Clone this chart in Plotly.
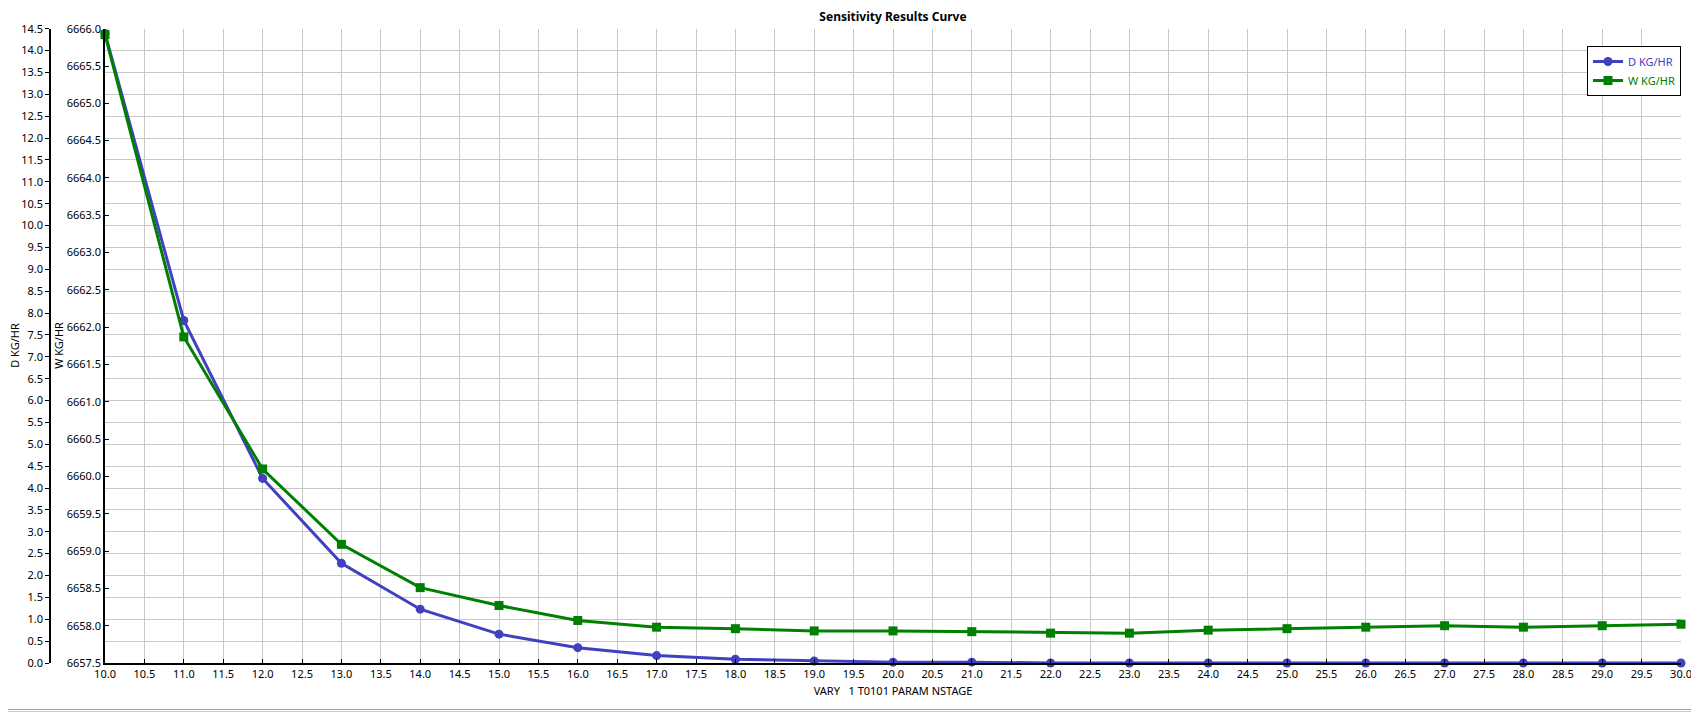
import plotly.graph_objects as go

PAGE_W, PAGE_H = 1699, 713
OFF = 8  # default body margin of the html page
W_PX, H_PX = PAGE_W - OFF, PAGE_H - OFF

stages = [10, 11, 12, 13, 14, 15, 16, 17, 18, 19, 20,
          21, 22, 23, 24, 25, 26, 27, 28, 29, 30]
d_kg_hr = [14.39, 7.83, 4.22, 2.28, 1.23, 0.66, 0.35, 0.17, 0.085, 0.045, 0.02,
           0.02, 0.0, 0.0, 0.0, 0.0, 0.0, 0.0, 0.0, 0.0, 0.0]
w_kg_hr = [6665.92, 6661.87, 6660.10, 6659.09, 6658.51, 6658.27, 6658.07, 6657.98,
           6657.96, 6657.93, 6657.93, 6657.92, 6657.90, 6657.90, 6657.94, 6657.96,
           6657.98, 6658.00, 6657.98, 6658.00, 6658.02]

title_text = "Sensitivity Results Curve"
x_title = "VARY\u00a0\u00a0\u00a01 T0101 PARAM NSTAGE"
d_name = "D KG/HR"
w_name = "W KG/HR"

D_COLOR = "#4040C0"
W_COLOR = "#008000"
GRID = "#c8c8c8"
FONT = "Noto Sans"

# page pixel -> paper fraction
px_x = lambda p: (p - OFF) / W_PX
px_y = lambda p: 1 - (p - OFF) / H_PX

left, right, top, bottom = 105, 1681, 28.7, 663

fig = go.Figure()
fig.add_trace(go.Scatter(
    x=stages, y=d_kg_hr, name=f"<span style='color:{D_COLOR}'>{d_name}</span>",
    mode="lines+markers", yaxis="y",
    line=dict(color=D_COLOR, width=3),
    marker=dict(symbol="circle", size=9, color=D_COLOR),
    cliponaxis=False,
))
fig.add_trace(go.Scatter(
    x=stages, y=w_kg_hr, name=f"<span style='color:{W_COLOR}'>{w_name}</span>",
    mode="lines+markers", yaxis="y2",
    line=dict(color=W_COLOR, width=3),
    marker=dict(symbol="square", size=9, color=W_COLOR),
    cliponaxis=False,
))

tickfont = dict(family=FONT, size=11, color="#000000")

fig.update_layout(
    template="none",
    width=W_PX, height=H_PX,
    margin=dict(l=0, r=0, t=0, b=0, pad=0),
    paper_bgcolor="white", plot_bgcolor="white",
    font=dict(family=FONT, size=11, color="#000000"),
    title=dict(text=f"<b>{title_text}</b>", x=px_x((left + right) / 2), xanchor="center",
               xref="paper", yref="container", y=px_y(17), yanchor="middle",
               font=dict(family=FONT, size=12, color="#000000")),
    xaxis=dict(
        domain=[px_x(left), px_x(right)], range=[10, 30], dtick=0.5, tick0=10,
        tickformat=".1f", showgrid=True, gridcolor=GRID, gridwidth=1,
        showline=True, linecolor="#000000", linewidth=1.5,
        ticks="inside", ticklen=4, tickcolor="#000000",
        tickfont=tickfont, zeroline=False, automargin=False,
        title=dict(text=x_title, font=dict(family=FONT, size=11), standoff=7),
    ),
    yaxis=dict(
        domain=[px_y(bottom), px_y(top)], range=[0, 14.5], dtick=0.5, tick0=0,
        tickformat=".1f", showgrid=True, gridcolor=GRID, gridwidth=1,
        anchor="free", position=px_x(50),
        showline=True, linecolor="#000000", linewidth=1.5,
        ticks="outside", ticklen=4, tickcolor="#000000",
        tickfont=tickfont, zeroline=False, automargin=False,
    ),
    yaxis2=dict(
        overlaying="y", side="left", anchor="x",
        range=[6657.5, 6666.0], dtick=0.5, tick0=6657.5,
        tickformat=".1f", showgrid=False,
        showline=True, linecolor="#000000", linewidth=1.5,
        ticks="inside", ticklen=4, tickcolor="#000000",
        tickfont=tickfont, zeroline=False, automargin=False,
    ),
    legend=dict(
        x=px_x(right), xanchor="right", y=px_y(46), yanchor="top",
        bgcolor="white", bordercolor="#000000", borderwidth=1,
        font=dict(family=FONT, size=11), tracegroupgap=0, itemwidth=30,
    ),
    showlegend=True,
)

fig.add_annotation(text=d_name, textangle=-90, x=px_x(15), y=px_y((top + bottom) / 2),
                   xref="paper", yref="paper", showarrow=False,
                   xanchor="center", yanchor="middle",
                   font=dict(family=FONT, size=11, color="#000000"))
fig.add_annotation(text=w_name, textangle=-90, x=px_x(59), y=px_y((top + bottom) / 2),
                   xref="paper", yref="paper", showarrow=False,
                   xanchor="center", yanchor="middle",
                   font=dict(family=FONT, size=11, color="#000000"))

fig.add_shape(type="line", xref="paper", yref="paper", x0=0, x1=1,
              y0=px_y(709.5), y1=px_y(709.5), line=dict(color="#9aa4b2", width=1))
fig.add_shape(type="line", xref="paper", yref="paper", x0=0, x1=1,
              y0=px_y(711.5), y1=px_y(711.5), line=dict(color="#c4cad3", width=1))

fig.write_html("out.html")
